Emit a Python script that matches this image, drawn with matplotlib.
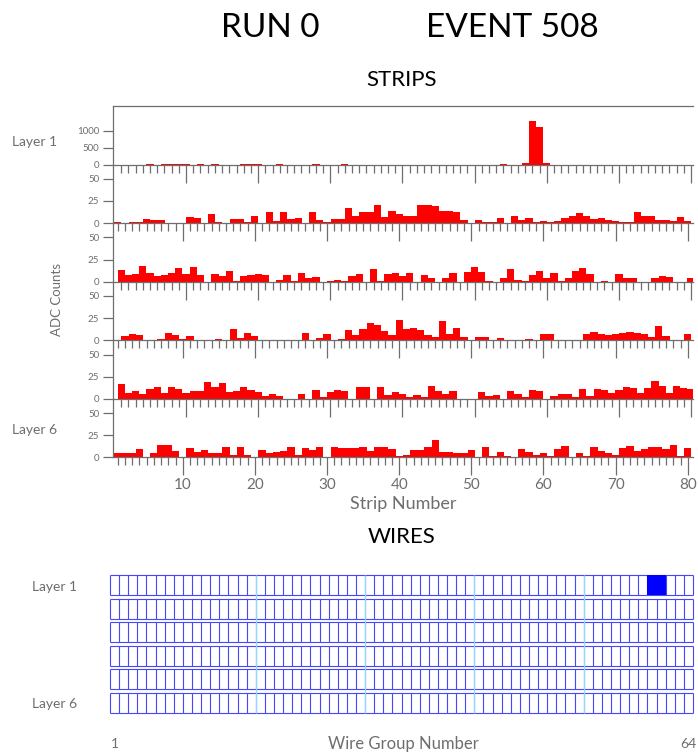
import matplotlib.pyplot as plt
import numpy as np

W, H = 698, 756

# strip numbers 1..80
strip = np.arange(1, 81)

# ADC counts per strip, one list per layer
layer1 = [0, 0, 0, 0, 14, 0, 14, 14, 14, 14,
          0, 14, 0, 14, 0, 0, 0, 14, 14, 14,
          0, 0, 14, 0, 0, 0, 0, 14, 0, 0,
          0, 14, 0, 0, 0, 0, 0, 0, 0, 0,
          0, 0, 0, 0, 0, 0, 0, 0, 0, 0,
          0, 0, 0, 14, 0, 0, 60, 1290, 1117, 60,
          0, 0, 0, 0, 0, 0, 0, 0, 0, 0,
          0, 0, 0, 0, 0, 0, 0, 0, 0, 0]
layer2 = [1, 0, 1, 1, 5, 3, 4, 0, 0, 0,
          7, 6, 0, 10, 1, 0, 4.5, 4.5, 1, 8,
          0, 12, 2, 12, 4.5, 5.7, 0, 12, 4, 1,
          4.5, 4.5, 17, 7.6, 13, 13, 20, 7, 14, 10,
          7.6, 7.6, 20, 20, 19, 14, 14, 13, 4, 0,
          4, 1, 1, 5.7, 0, 8, 4, 6, 1, 2.6,
          1, 2.6, 5.7, 8, 11, 8, 5, 6, 4, 2.6,
          0.8, 1.5, 13, 8, 8, 4, 4, 2.6, 7, 2]
layer3 = [12.8, 7.5, 8.3, 17.7, 10, 6.4, 7.5, 10, 15, 8.3,
          16.5, 7.5, 0, 8.3, 6.4, 12.4, 0.8, 6.4, 7.5, 8.3,
          7.5, 0, 2.3, 7.5, 0.8, 9.4, 3.8, 5.3, 0, 0.8,
          1.5, 0.8, 6.4, 8.3, 0, 14.7, 0.8, 8.3, 9.4, 6.4,
          9.4, 0, 7.5, 4.5, 0, 3.8, 9.4, 0, 11.3, 16.5,
          11.3, 0.8, 0, 3.8, 14, 1.9, 0.8, 7.5, 12.4, 3.8,
          9.4, 0.8, 3.8, 12.4, 15.8, 8.3, 0, 1, 0, 8.3,
          3.8, 4.5, 0, 0, 3.8, 6.4, 5.3, 0, 0, 3.8]
layer4 = [0, 5.2, 6.7, 5.6, 0, 0, 1.9, 7.8, 5.6, 1.9,
          4.9, 0, 0, 0, 1.9, 0, 13, 2.6, 8.6, 4.9,
          0.4, 0, 0, 0, 0, 0, 8.6, 0, 2.6, 6.7,
          0, 1.9, 12, 5.6, 13, 19, 17, 10.8, 5.6, 22.6,
          12.3, 14.2, 11.2, 6.3, 4.1, 21.6, 7, 13.4, 3.7, 0,
          4.1, 4.1, 0, 2.2, 0, 0, 0, 1.5, 0, 7.5,
          6.7, 0, 0, 0, 0, 6.7, 9.3, 6.7, 5.6, 6.7,
          7.8, 9.7, 8.6, 7.5, 4.1, 15.7, 5.2, 0, 0, 7.5]
layer5 = [16.5, 6, 8.3, 4.9, 11.3, 12.8, 6, 12.8, 11.3, 6,
          8.3, 8.3, 19.5, 13.5, 17.3, 7.5, 8.3, 12.8, 10.2, 7.5,
          3, 5.3, 2.6, 0, 0, 5.3, 0, 9.8, 1.5, 7.5,
          10.2, 8.3, 0, 12.8, 12.8, 0, 13.5, 4.5, 7.3, 4.9,
          1.9, 4.1, 1.9, 13.9, 8.6, 5.6, 8.6, 0, 0, 0,
          7.9, 3, 3.8, 0, 8.6, 4.9, 1.9, 9.8, 8.6, 0,
          3, 5.6, 4.9, 1.9, 10.5, 3, 10.5, 9.8, 6.4, 9.8,
          13.2, 11.7, 6.4, 11.7, 19.6, 13.9, 6.4, 14.7, 11.7, 10.9]
layer6 = [4.5, 5.3, 4.5, 9, 0, 5.3, 13.5, 14.3, 7.5, 0,
          10.5, 6, 8.3, 5.3, 4.5, 12, 3, 11.3, 2.3, 0.8,
          8.3, 4.5, 6, 7.5, 12, 3, 10.5, 8.3, 12, 0,
          11.3, 10.5, 10.5, 10.5, 11.3, 7.5, 11.3, 11.3, 9, 1.1,
          3, 8.3, 8.3, 12, 20, 6, 6, 5.3, 5.3, 8.3,
          0, 12, 1.1, 6, 1.1, 0, 9, 6, 2.3, 5.3,
          1.1, 9.8, 12.8, 0, 5.3, 1.1, 12, 7.5, 5.3, 3,
          11, 12.4, 6.8, 9.8, 11.3, 12, 9, 14.3, 1.1, 11]
layers = [layer1, layer2, layer3, layer4, layer5, layer6]

# wire groups
n_groups = 64
n_layers = 6
wire_hits = [(1, 60), (1, 61)]      # (layer, wire group)
wire_marks = [16, 28, 40, 52]      # light lines between sections

plt.rcParams['font.family'] = ['Lato', 'DejaVu Sans']
gray = '#6e6e6e'

fig = plt.figure(figsize=(W / 100, H / 100), dpi=100)


def box(x0, y0, x1, y1):
    # pixel box -> figure fraction
    return [x0 / W, 1 - y1 / H, (x1 - x0) / W, (y1 - y0) / H]


def ftext(x, y, s, **kw):
    fig.text(x / W, 1 - y / H, s, ha='center', va='center', **kw)


# strip panels
panel_h = 58.55
for k, vals in enumerate(layers):
    top = 106 + k * panel_h
    ax = fig.add_axes(box(113, top, 693, top + panel_h))
    ax.set_facecolor('none')
    ax.bar(strip, vals, width=1.0, color='#ff0000', edgecolor='none')
    shift = 0.46 if k % 2 == 0 else 0.0
    ax.set_xlim(0.334 - shift, 80.73 - shift)
    if k == 0:
        ax.set_ylim(0, 1730)
        ax.set_yticks([0, 500, 1000])
    else:
        ax.set_ylim(0, 66.2)
        ax.set_yticks([0, 25, 50])
    ax.spines['right'].set_visible(False)
    ax.spines['top'].set_visible(k == 0)
    for s in ['left', 'bottom', 'top']:
        ax.spines[s].set_color(gray)
        ax.spines[s].set_linewidth(0.9)
    ax.set_xticks(range(10, 81, 10))
    ax.set_xticks(range(1, 81), minor=True)
    ax.tick_params(axis='x', which='major', length=13, width=0.9, color=gray,
                   direction='out', labelsize=11, labelcolor=gray, pad=2)
    ax.tick_params(axis='x', which='minor', length=6, width=0.9, color=gray,
                   direction='out')
    ax.tick_params(axis='y', length=7, width=0.9, color=gray, direction='out',
                   labelsize=7, labelcolor=gray, pad=3)
    if k < 5:
        ax.tick_params(axis='x', labelbottom=False)

ftext(270, 28, 'RUN 0', fontsize=24)
ftext(512, 28, 'EVENT 508', fontsize=24)
ftext(402, 80, 'STRIPS', fontsize=16)
ftext(35, 142, 'Layer 1', fontsize=10, color=gray)
ftext(35, 430, 'Layer 6', fontsize=10, color=gray)
ftext(57, 300, 'ADC Counts', fontsize=9.5, color=gray, rotation=90)
ftext(403, 504, 'Strip Number', fontsize=13, color=gray)

# wire panel
ftext(402, 537, 'WIRES', fontsize=16)
wax = fig.add_axes(box(110, 575, 693, 713))
wax.axis('off')
gap = 0.17
wax.set_xlim(0, n_groups)
wax.set_ylim(0, n_layers + (n_layers - 1) * gap)
edges = np.arange(n_groups + 1)
for r in range(1, n_layers + 1):
    y0 = (n_layers - r) * (1 + gap)
    wax.vlines(edges, y0, y0 + 1, colors='#4646ff', lw=0.8, clip_on=False)
    wax.hlines([y0, y0 + 1], 0, n_groups, colors='#4646ff', lw=0.8,
               clip_on=False)
for m in wire_marks:
    wax.vlines(m, 0, n_layers + (n_layers - 1) * gap, colors='#8fd8ff', lw=0.9,
               zorder=3, clip_on=False)
for lay, g in wire_hits:
    y0 = (n_layers - lay) * (1 + gap)
    wax.bar(g - 0.5, 1, bottom=y0, width=1, color='#0000ff', zorder=4)

ftext(55, 587, 'Layer 1', fontsize=10, color=gray)
ftext(55, 704, 'Layer 6', fontsize=10, color=gray)
ftext(115, 744, '1', fontsize=10, color=gray)
ftext(688, 744, '64', fontsize=10, color=gray)
ftext(403, 744, 'Wire Group Number', fontsize=12, color=gray)

fig.savefig('out.png', dpi=100)
